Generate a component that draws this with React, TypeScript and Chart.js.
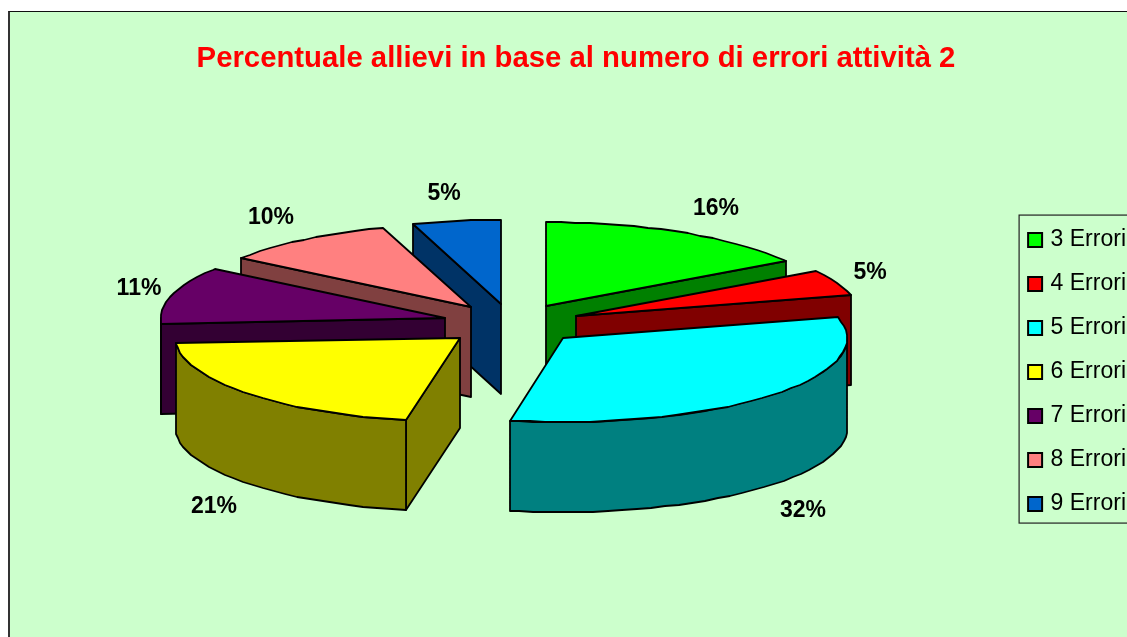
import React, { useEffect, useRef } from "react";
import { Chart, registerables } from "chart.js";

Chart.register(...registerables);

const categories = ["3 Errori", "4 Errori", "5 Errori", "6 Errori", "7 Errori", "8 Errori", "9 Errori"];
const values = [16, 5, 32, 21, 11, 10, 5];
const topColors = ["#00FF00", "#FF0000", "#00FFFF", "#FFFF00", "#660066", "#FF8080", "#0066CC"];
const sideColors = ["#008000", "#800000", "#008080", "#808000", "#330033", "#804040", "#003366"];
const chartTitle = "Percentuale allievi in base al numero di errori attività 2";

const FONT = "'Liberation Sans', Arial, sans-serif";
const TILT = 0.295;
const DEPTH = 90;
const LIFT = 43;
const PIE_SHIFT_X = 2;
const STEP = (3 * Math.PI) / 180;

const pie3d = {
  id: "pie3d",
  afterLayout(chart: any) {
    const legend = chart.legend;
    legend.left += 5;
    legend.right = 1116;
    legend.top += 5;
    legend.bottom += 5;
    legend.legendHitBoxes?.forEach((h: any) => {
      h.left += 5;
      h.top += 5;
    });
  },
  beforeDraw(chart: any) {
    const hits = chart.legend?.legendHitBoxes;
    if (!hits || !hits.length) return;
    const { ctx } = chart;
    const first = hits[0];
    const last = hits[hits.length - 1];
    const left = first.left - 14;
    const top = first.top + first.height / 2 - 25;
    const bottom = last.top + last.height / 2 + 19;
    ctx.save();
    ctx.strokeStyle = "#222222";
    ctx.lineWidth = 1.2;
    ctx.strokeRect(left, top, chart.width + 20 - left, bottom - top);
    ctx.restore();
  },
  beforeDatasetsDraw(chart: any) {
    const { ctx } = chart;
    const meta = chart.getDatasetMeta(0);
    const total = values.reduce((a, b) => a + b, 0);
    const slices = meta.data.map((arc: any, i: number) => {
      const p = arc.getProps(["x", "y", "startAngle", "endAngle", "outerRadius"], true);
      const mid = (p.startAngle + p.endAngle) / 2;
      const off = (arc.options.offset || 0) / 4;
      const cy = p.y;
      const ax = p.x + PIE_SHIFT_X + Math.cos(mid) * off;
      const ay = p.y + Math.sin(mid) * off;
      const pt = (a: number, r = p.outerRadius) => ({
        x: Math.round(ax + r * Math.cos(a)),
        y: Math.round(cy + TILT * (ay + r * Math.sin(a) - cy) - LIFT),
      });
      return { i, p, mid, pt, apex: pt(0, 0) };
    });

    const order = [...slices].sort((a: any, b: any) => Math.sin(a.mid) - Math.sin(b.mid));
    ctx.save();
    ctx.lineJoin = "round";
    ctx.strokeStyle = "#000000";
    ctx.lineWidth = 1.8;

    const paint = (fill: string) => {
      ctx.closePath();
      ctx.fillStyle = fill;
      ctx.fill();
      ctx.stroke();
    };
    const arcPoints = (s: number, e: number, pt: any) => {
      const pts = [];
      for (let a = s; a < e; a += STEP) pts.push(pt(a));
      pts.push(pt(e));
      return pts;
    };
    const wall = (a: number, b: any, fill: string) => {
      ctx.beginPath();
      ctx.moveTo(a.x, a.y);
      ctx.lineTo(b.x, b.y);
      ctx.lineTo(b.x, b.y + DEPTH);
      ctx.lineTo(a.x, a.y + DEPTH);
      paint(fill);
    };

    order.forEach((s: any) => {
      const { p, pt, apex, i } = s;
      const side = sideColors[i];
      if (Math.sin(p.startAngle - Math.PI / 2) > 0.001) wall(apex, pt(p.startAngle), side);
      if (Math.sin(p.endAngle + Math.PI / 2) > 0.001) wall(apex, pt(p.endAngle), side);
      const s0 = Math.max(p.startAngle, 0);
      const e0 = Math.min(p.endAngle, Math.PI);
      if (e0 > s0) {
        const rim = arcPoints(s0, e0, pt);
        ctx.beginPath();
        rim.forEach((q: any, n: number) => (n ? ctx.lineTo(q.x, q.y) : ctx.moveTo(q.x, q.y)));
        [...rim].reverse().forEach((q: any) => ctx.lineTo(q.x, q.y + DEPTH));
        paint(side);
      }
      ctx.beginPath();
      ctx.moveTo(apex.x, apex.y);
      arcPoints(p.startAngle, p.endAngle, pt).forEach((q: any) => ctx.lineTo(q.x, q.y));
      paint(topColors[i]);
    });

    ctx.fillStyle = "#000000";
    ctx.font = `bold 23px ${FONT}`;
    ctx.textAlign = "center";
    ctx.textBaseline = "middle";
    slices.forEach((s: any) => {
      const q = s.pt(s.mid);
      const sx = Math.cos(s.mid);
      const sy = Math.sin(s.mid);
      const dx = Math.sign(sx) * Math.min(1, Math.abs(sx) * 2.5) * 33;
      const dy = sy * 30 + (sy > 0 ? DEPTH + 4 : 2);
      ctx.fillText(`${Math.round((values[s.i] / total) * 100)}%`, q.x + dx, q.y + dy);
    });
    ctx.restore();
    return false;
  },
};

export default function App() {
  const ref = useRef<HTMLCanvasElement>(null);
  useEffect(() => {
    const chart = new Chart(ref.current as HTMLCanvasElement, {
      type: "pie",
      data: {
        labels: categories,
        datasets: [
          {
            data: values,
            backgroundColor: topColors,
            borderColor: "#000000",
            borderWidth: 2,
            offset: 280,
            radius: 284,
          } as any,
        ],
      },
      options: {
        animation: false,
        responsive: false,
        devicePixelRatio: 1,
        layout: { padding: { left: 8 } },
        plugins: {
          title: {
            display: true,
            text: chartTitle,
            color: "#FF0000",
            font: { family: FONT, size: 29.3, weight: "bold" },
            padding: { top: 29, bottom: 16 },
          },
          legend: {
            display: true,
            position: "right",
            fullSize: false,
            labels: {
              color: "#000000",
              boxWidth: 14,
              boxHeight: 14,
              padding: 21,
              textAlign: "right",
              font: { family: FONT, size: 23 },
            },
          },
          tooltip: { enabled: false },
        },
      },
      plugins: [pie3d as any],
    });
    return () => chart.destroy();
  }, []);
  return (
    <div
      style={{
        position: "absolute",
        left: 8,
        top: 11,
        width: 1119,
        height: 626,
        boxSizing: "border-box",
        overflow: "hidden",
        background: "#CCFFCC",
        borderLeft: "2px solid #333333",
        borderTop: "1px solid #111111",
      }}
    >
      <canvas ref={ref} width={1124} height={630} style={{ display: "block" }} />
    </div>
  );
}
